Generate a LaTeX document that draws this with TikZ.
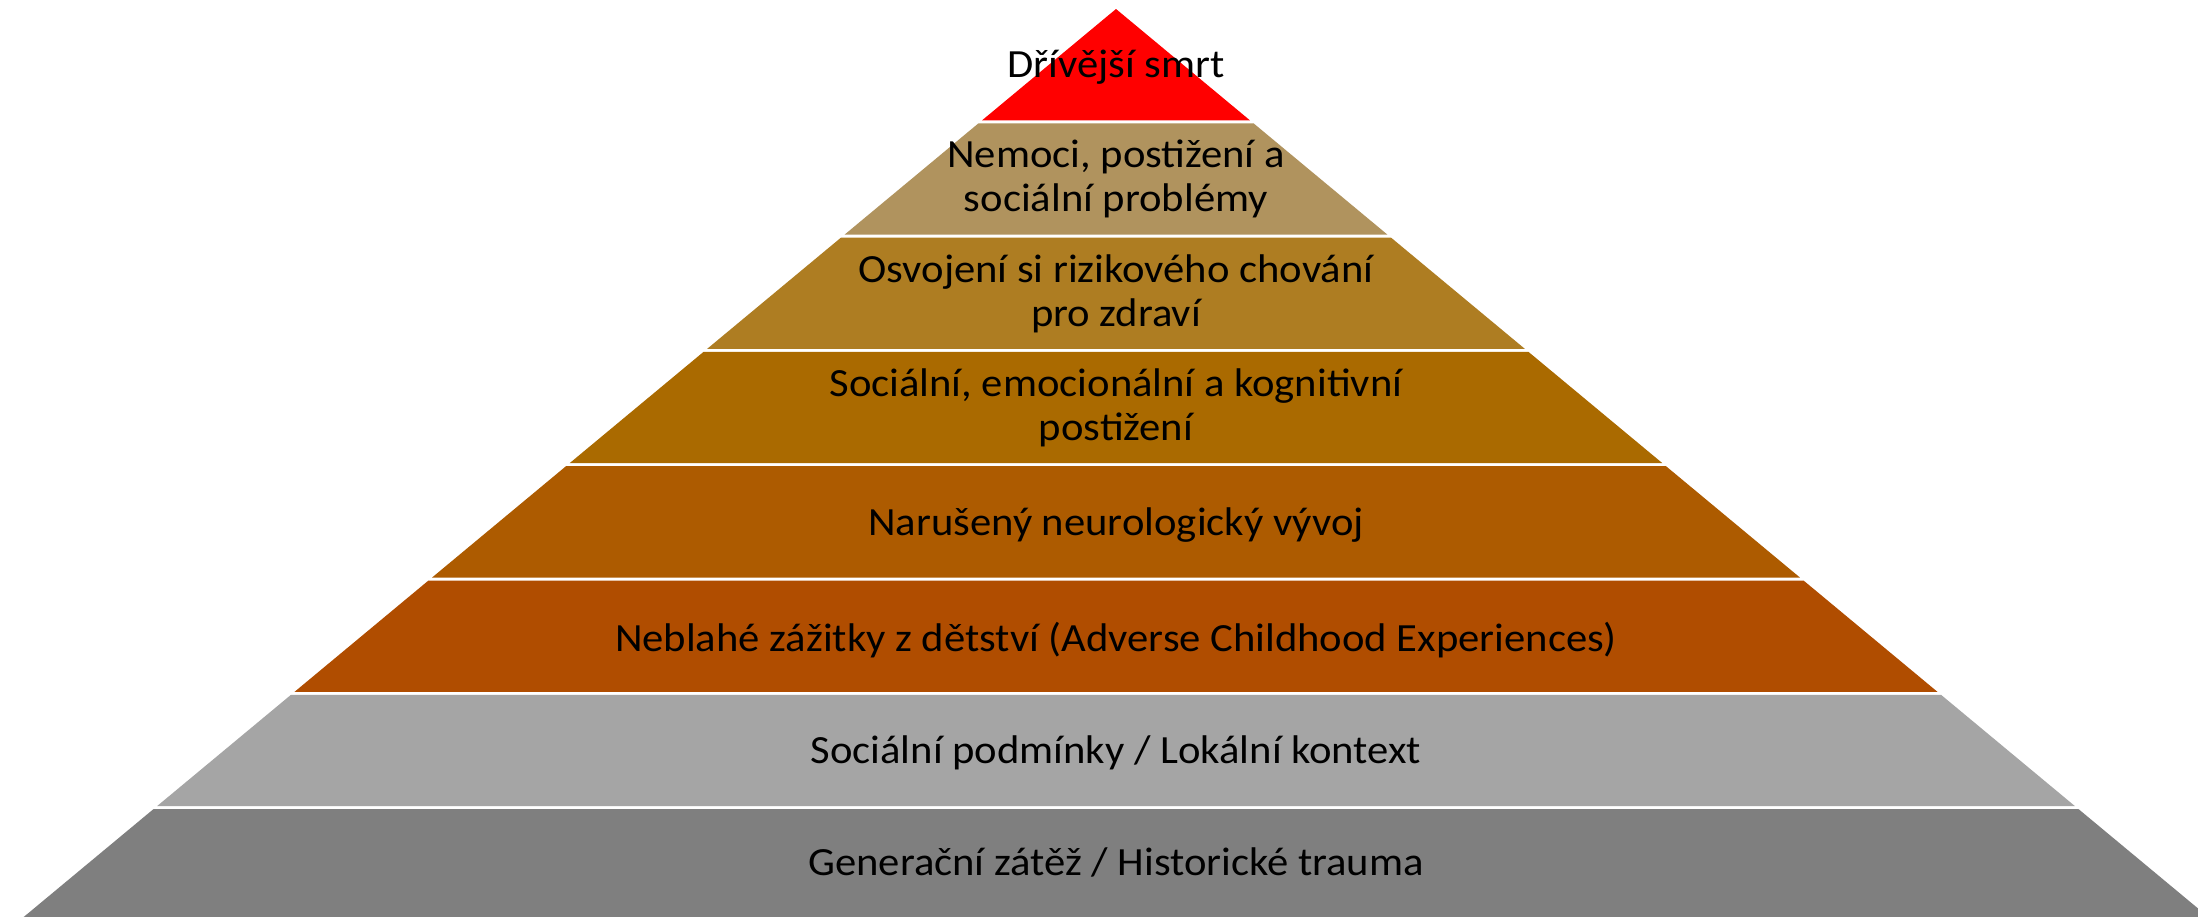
\documentclass[tikz,border=0pt]{standalone}
\usepackage{graphicx}
\usepackage{fontspec}
\setmainfont{Carlito}
\newcommand{\wide}[1]{\scalebox{1.066}[1]{#1}}
\begin{document}
\begin{tikzpicture}[x=1pt,y=-1pt,
  lbl/.style={anchor=base,inner sep=0pt,text=black,font=\fontsize{40}{44}\selectfont}]
\useasboundingbox (0,0) rectangle (2198,916);
\clip (0,0) rectangle (2198,916);
\fill[white] (0,0) rectangle (2198,916);
\definecolor{c0}{RGB}{255,0,0}
\definecolor{c1}{RGB}{176,147,94}
\definecolor{c2}{RGB}{174,125,34}
\definecolor{c3}{RGB}{170,106,0}
\definecolor{c4}{RGB}{173,91,0}
\definecolor{c5}{RGB}{176,77,0}
\definecolor{c6}{RGB}{165,165,165}
\definecolor{c7}{RGB}{127,127,127}
\def\ax{1116}
\def\ay{9}
\def\sl{1.203}
\foreach \i in {0,...,7} {
  \pgfmathsetmacro\yt{\ay+114.3*\i}
  \pgfmathsetmacro\yb{\yt+111.3}
  \pgfmathsetmacro\dt{\sl*(\yt-\ay)}
  \pgfmathsetmacro\db{\sl*(\yb-\ay)}
  \fill[c\i] (\ax-\dt,\yt) -- (\ax+\dt,\yt) -- (\ax+\db,\yb) -- (\ax-\db,\yb) -- cycle;
}
\node[lbl] (t0) at (1116,77) {\wide{Dřívější smrt}};
\node[lbl] (t1a) at (1116,167) {\wide{Nemoci, postižení a}};
\node[lbl] (t1b) at (1116,211) {\wide{sociální problémy}};
\node[lbl] (t2a) at (1116,282) {\wide{Osvojení si rizikového chování}};
\node[lbl] (t2b) at (1116,326) {\wide{pro zdraví}};
\node[lbl] (t3a) at (1116,396) {\wide{Sociální, emocionální a kognitivní}};
\node[lbl] (t3b) at (1116,440) {\wide{postižení}};
\node[lbl] (t4) at (1116,535) {\wide{Narušený neurologický vývoj}};
\node[lbl] (t5) at (1116,651) {\wide{Neblahé zážitky z dětství (Adverse Childhood Experiences)}};
\node[lbl] (t6) at (1116,763) {\wide{Sociální podmínky / Lokální kontext}};
\node[lbl] (t7) at (1116,875) {\wide{Generační zátěž / Historické trauma}};
\end{tikzpicture}
\end{document}
